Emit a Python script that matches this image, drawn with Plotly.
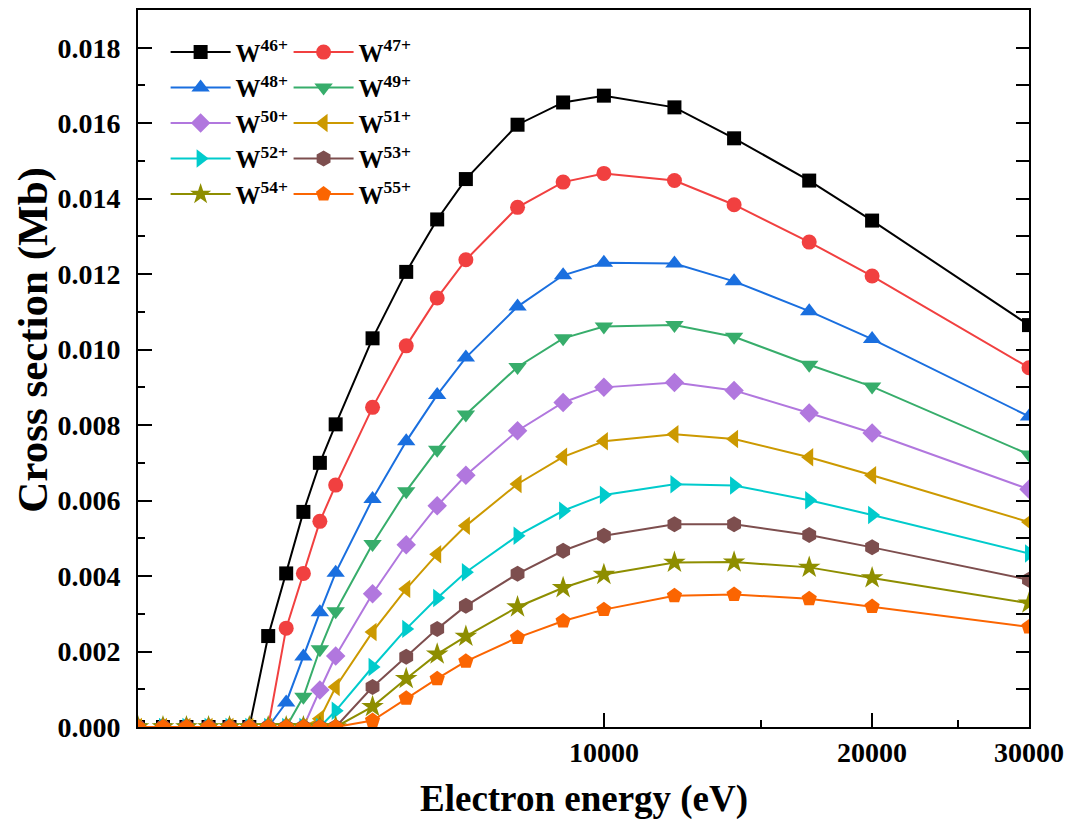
import math
import plotly.graph_objects as go

# Electron energy grid (eV)
energy = [3000, 3200, 3400, 3600, 3800, 4000, 4200, 4400, 4600, 4800, 5000,
          5500, 6000, 6500, 7000, 8000, 9000, 10000, 12000, 14000, 17000,
          20000, 30000]

# Cross sections (Mb) for each charge state
w46 = [0, 0, 0, 0, 0, 0,
       0.00241, 0.00407, 0.00570, 0.00700, 0.00802, 0.01030, 0.01206, 0.01345,
       0.01452, 0.01596, 0.01655, 0.01673, 0.01642, 0.01560, 0.01448, 0.01342,
       0.01065]
w47 = [0, 0, 0, 0, 0, 0, 0,
       0.00262, 0.00407, 0.00545, 0.00641, 0.00847, 0.01010, 0.01137, 0.01238,
       0.01377, 0.01444, 0.01467, 0.01448, 0.01384, 0.01285, 0.01195, 0.00952]
w48 = [0, 0, 0, 0, 0, 0, 0,
       0.00065, 0.00187, 0.00304, 0.00409, 0.00604, 0.00757, 0.00880, 0.00979,
       0.01114, 0.01197, 0.01230, 0.01228, 0.01181, 0.01102, 0.01028, 0.00823]
w49 = [0, 0, 0, 0, 0, 0, 0, 0,
       0.00080, 0.00206, 0.00307, 0.00485, 0.00625, 0.00735, 0.00828, 0.00954,
       0.01030, 0.01061, 0.01065, 0.01034, 0.00960, 0.00902, 0.00722]
w50 = [0, 0, 0, 0, 0, 0, 0, 0, 0,
       0.00098, 0.00188, 0.00353, 0.00483, 0.00586, 0.00667, 0.00785, 0.00860,
       0.00900, 0.00913, 0.00892, 0.00832, 0.00779, 0.00630]
w51 = [0, 0, 0, 0, 0, 0, 0, 0, 0,
       0.00022, 0.00106, 0.00252, 0.00366, 0.00458, 0.00533, 0.00644, 0.00716,
       0.00757, 0.00776, 0.00763, 0.00715, 0.00667, 0.00543]
w52 = [0, 0, 0, 0, 0, 0, 0, 0, 0, 0,
       0.00043, 0.00159, 0.00260, 0.00342, 0.00410, 0.00507, 0.00573, 0.00615,
       0.00643, 0.00640, 0.00601, 0.00562, 0.00460]
w53 = [0, 0, 0, 0, 0, 0, 0, 0, 0, 0, 0,
       0.00106, 0.00186, 0.00260, 0.00321, 0.00406, 0.00467, 0.00507, 0.00537,
       0.00537, 0.00509, 0.00476, 0.00390]
w54 = [0, 0, 0, 0, 0, 0, 0, 0, 0, 0, 0,
       0.00054, 0.00128, 0.00193, 0.00240, 0.00318, 0.00369, 0.00404, 0.00436,
       0.00437, 0.00423, 0.00395, 0.00328]
w55 = [0, 0, 0, 0, 0, 0, 0, 0, 0, 0, 0,
       0.00017, 0.00076, 0.00128, 0.00174, 0.00237, 0.00281, 0.00311, 0.00348,
       0.00351, 0.00340, 0.00319, 0.00265]

series_names = ["W<sup>46+</sup>", "W<sup>47+</sup>", "W<sup>48+</sup>",
                "W<sup>49+</sup>", "W<sup>50+</sup>", "W<sup>51+</sup>",
                "W<sup>52+</sup>", "W<sup>53+</sup>", "W<sup>54+</sup>",
                "W<sup>55+</sup>"]
series_values = [w46, w47, w48, w49, w50, w51, w52, w53, w54, w55]

colors = ["#000000", "#F14040", "#1A6FDF", "#37AD6B", "#B177DE",
          "#CC9900", "#00CBCC", "#7D4E4E", "#8E8E00", "#FB6501"]
symbols = ["square", "circle", "triangle-up", "triangle-down", "diamond",
           "triangle-left", "triangle-right", "hexagon", "star", "pentagon"]
sizes = [14, 15, 16, 16, 15, 16, 16, 16, 17, 16]

x_ticks = [10000, 20000, 30000]
x_minor = [15000, 25000]
y_ticks = [0.000, 0.002, 0.004, 0.006, 0.008, 0.010, 0.012, 0.014, 0.016, 0.018]
y_right_ticks = [i / 1000 for i in range(0, 19)]

FONT = "Liberation Serif"

fig = go.Figure()
for i, (name, vals) in enumerate(zip(series_names, series_values)):
    fig.add_trace(go.Scatter(
        x=energy, y=vals, name=name, mode="lines+markers",
        line=dict(color=colors[i], width=2),
        marker=dict(symbol=symbols[i], size=sizes[i], color=colors[i],
                    line=dict(width=0)),
        legend="legend" if i % 2 == 0 else "legend2",
    ))

# invisible trace that keeps the right-hand tick axis in the layout
fig.add_trace(go.Scatter(
    x=energy[:1], y=w46[:1], yaxis="y2", mode="markers",
    marker=dict(opacity=0), showlegend=False, hoverinfo="skip",
))

axis_common = dict(
    showline=True, linecolor="black", linewidth=2,
    ticks="inside", tickcolor="black", tickwidth=2, ticklen=14,
    showgrid=False, zeroline=False,
    tickfont=dict(family=FONT, size=28, color="black", weight="bold"),
)

legend_font = dict(family=FONT, size=25, color="black", weight="bold")

fig.update_layout(
    width=1072, height=819,
    margin=dict(l=138, r=41, t=8, b=92),
    paper_bgcolor="white", plot_bgcolor="white",
    showlegend=True,
    xaxis=dict(
        type="log",
        range=[math.log10(3000), math.log10(30000)],
        tickmode="array", tickvals=x_ticks,
        ticktext=[str(v) for v in x_ticks],
        mirror=True,
        minor=dict(tickmode="array", tickvals=x_minor, ticks="inside",
                   ticklen=7, tickwidth=2, tickcolor="black"),
        ticklabelstandoff=-1,
        **axis_common,
    ),
    yaxis=dict(
        range=[0, 0.019],
        tickmode="array", tickvals=y_ticks,
        ticktext=[f"{v:.3f}" for v in y_ticks],
        mirror=True,
        minor=dict(dtick=0.001, ticks="inside", ticklen=7, tickwidth=2,
                   tickcolor="black"),
        ticklabelstandoff=10,
        **axis_common,
    ),
    # right-hand frame ticks, every 0.001
    yaxis2=dict(
        overlaying="y", side="right", range=[0, 0.019],
        tickmode="array", tickvals=y_right_ticks,
        ticks="inside", ticklen=13, tickwidth=2, tickcolor="black",
        showticklabels=False, showline=False, showgrid=False, zeroline=False,
    ),
    legend=dict(
        x=0.031, y=0.973, xanchor="left", yanchor="top",
        bgcolor="rgba(0,0,0,0)", borderwidth=0, itemwidth=60,
        font=legend_font, tracegroupgap=0,
    ),
    legend2=dict(
        x=0.169, y=0.973, xanchor="left", yanchor="top",
        bgcolor="rgba(0,0,0,0)", borderwidth=0, itemwidth=60,
        font=legend_font, tracegroupgap=0,
    ),
    annotations=[
        dict(text="Electron energy (eV)", xref="paper", yref="paper",
             x=0.5, y=-0.1, xanchor="center", yanchor="middle",
             showarrow=False,
             font=dict(family=FONT, size=37, color="black", weight="bold")),
        dict(text="Cross section (Mb)", xref="paper", yref="paper",
             x=-0.118, y=0.54, xanchor="center", yanchor="middle",
             textangle=-90, showarrow=False,
             font=dict(family=FONT, size=43, color="black", weight="bold")),
    ],
)

fig.write_html("out.html")
